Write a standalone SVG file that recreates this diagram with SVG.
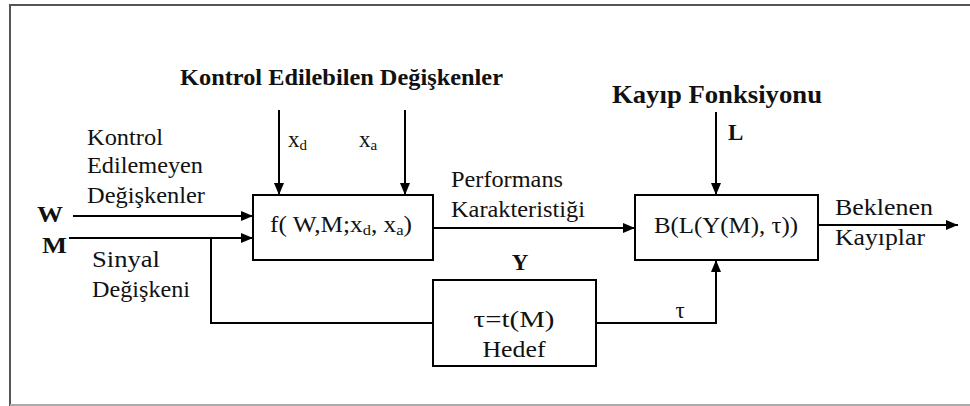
<svg xmlns="http://www.w3.org/2000/svg" width="970" height="406" viewBox="0 0 970 406">
<defs>
<marker id="ah" viewBox="0 0 12 10" refX="12" refY="5" markerWidth="12" markerHeight="10" markerUnits="userSpaceOnUse" orient="auto">
<path d="M0,0 L12,5 L0,10 Z" fill="#000"/>
</marker>
</defs>
<style>
.box{fill:#fff;stroke:#000;stroke-width:2}
.c{fill:none;stroke:#000;stroke-width:2}
.a{marker-end:url(#ah)}
</style>
<rect x="10" y="5" width="975" height="400" fill="#fff" stroke="#555" stroke-width="2"/>
<line x1="10" y1="405" x2="970" y2="405" stroke="#aaa" stroke-width="2"/>

<g id="connectors">
<path class="c a" d="M73,216 H253"/>
<path class="c a" d="M69,238 H253"/>
<path class="c" d="M211,238 V323 H433"/>
<path class="c a" d="M279,110 V195"/>
<path class="c a" d="M405,110 V195"/>
<path class="c a" d="M433,228 H635"/>
<path class="c a" d="M716,112 V195"/>
<path class="c a" d="M596,323 H716 V260"/>
<path class="c a" d="M818,225 H958"/>
</g>

<g id="labels" font-family="Liberation Serif" font-size="23" fill="#111">
<text font-weight="bold" x="180" y="85" textLength="323" lengthAdjust="spacingAndGlyphs">Kontrol Edilebilen Değişkenler</text>
<text font-weight="bold" font-size="26" x="612" y="103" textLength="210" lengthAdjust="spacingAndGlyphs">Kayıp Fonksiyonu</text>
<text font-weight="bold" x="728" y="140">L</text>
<text x="87" y="145" textLength="76" lengthAdjust="spacingAndGlyphs">Kontrol</text>
<text x="87" y="173" textLength="116" lengthAdjust="spacingAndGlyphs">Edilemeyen</text>
<text x="87" y="203" textLength="118" lengthAdjust="spacingAndGlyphs">Değişkenler</text>
<text font-weight="bold" x="37" y="222" textLength="26" lengthAdjust="spacingAndGlyphs">W</text>
<text font-weight="bold" x="42" y="253" textLength="25" lengthAdjust="spacingAndGlyphs">M</text>
<text x="92" y="267" textLength="68" lengthAdjust="spacingAndGlyphs">Sinyal</text>
<text x="92" y="297" textLength="98" lengthAdjust="spacingAndGlyphs">Değişkeni</text>
<text x="288" y="147">x<tspan font-size="15" dy="3">d</tspan></text>
<text x="359" y="147">x<tspan font-size="15" dy="3">a</tspan></text>
<text x="451" y="187" textLength="112" lengthAdjust="spacingAndGlyphs">Performans</text>
<text x="451" y="217" textLength="134" lengthAdjust="spacingAndGlyphs">Karakteristiği</text>
<text font-weight="bold" x="520" y="270" text-anchor="middle">Y</text>
<text x="680" y="318" text-anchor="middle">τ</text>
<text x="835" y="215" textLength="98" lengthAdjust="spacingAndGlyphs">Beklenen</text>
<text x="835" y="245" textLength="90" lengthAdjust="spacingAndGlyphs">Kayıplar</text>
</g>

<g id="node-f" font-family="Liberation Serif" font-size="23" fill="#111">
<rect class="box" x="253" y="195" width="180" height="65"/>
<text x="270" y="232" textLength="142" lengthAdjust="spacingAndGlyphs">f( W,M;x<tspan font-size="15" dy="3">d</tspan><tspan dy="-3">, x</tspan><tspan font-size="15" dy="3">a</tspan><tspan dy="-3">)</tspan></text>
</g>

<g id="node-B" font-family="Liberation Serif" font-size="23" fill="#111">
<rect class="box" x="635" y="195" width="183" height="65"/>
<text x="726" y="233" text-anchor="middle" textLength="144" lengthAdjust="spacingAndGlyphs">B(L(Y(M), τ))</text>
</g>

<g id="node-tau" font-family="Liberation Serif" font-size="23" fill="#111">
<rect class="box" x="433" y="280" width="163" height="86"/>
<text x="514" y="327" text-anchor="middle" textLength="81" lengthAdjust="spacingAndGlyphs">τ=t(M)</text>
<text x="514" y="357" text-anchor="middle" textLength="63" lengthAdjust="spacingAndGlyphs">Hedef</text>
</g>
</svg>
